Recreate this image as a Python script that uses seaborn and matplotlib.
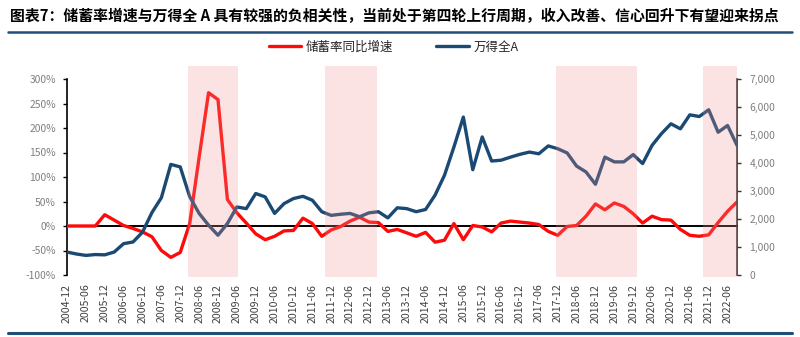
import matplotlib
matplotlib.use("Agg")
import matplotlib.pyplot as plt
import seaborn as sns
import pandas as pd
from matplotlib.lines import Line2D
from matplotlib.ticker import FuncFormatter

# ---------------- data ----------------
quarters = [
    "2004-12",
    "2005-03", "2005-06", "2005-09", "2005-12",
    "2006-03", "2006-06", "2006-09", "2006-12",
    "2007-03", "2007-06", "2007-09", "2007-12",
    "2008-03", "2008-06", "2008-09", "2008-12",
    "2009-03", "2009-06", "2009-09", "2009-12",
    "2010-03", "2010-06", "2010-09", "2010-12",
    "2011-03", "2011-06", "2011-09", "2011-12",
    "2012-03", "2012-06", "2012-09", "2012-12",
    "2013-03", "2013-06", "2013-09", "2013-12",
    "2014-03", "2014-06", "2014-09", "2014-12",
    "2015-03", "2015-06", "2015-09", "2015-12",
    "2016-03", "2016-06", "2016-09", "2016-12",
    "2017-03", "2017-06", "2017-09", "2017-12",
    "2018-03", "2018-06", "2018-09", "2018-12",
    "2019-03", "2019-06", "2019-09", "2019-12",
    "2020-03", "2020-06", "2020-09", "2020-12",
    "2021-03", "2021-06", "2021-09", "2021-12",
    "2022-03", "2022-06", "2022-09",
]

tick_labels = [
    "2004-12", "2005-06", "2005-12", "2006-06", "2006-12", "2007-06",
    "2007-12", "2008-06", "2008-12", "2009-06", "2009-12", "2010-06",
    "2010-12", "2011-06", "2011-12", "2012-06", "2012-12", "2013-06",
    "2013-12", "2014-06", "2014-12", "2015-06", "2015-12", "2016-06",
    "2016-12", "2017-06", "2017-12", "2018-06", "2018-12", "2019-06",
    "2019-12", "2020-06", "2020-12", "2021-06", "2021-12", "2022-06",
]

# 储蓄率同比增速 (%)
savings_growth = [
    0, 0, 0, 0, 23, 12, 1, -5, -12, -22,
    -50, -64, -54, 5, 140, 272, 258, 54, 27, 6,
    -16, -28, -21, -10, -9, 16, 5, -21, -8, -1,
    10, 18, 8, 7, -11, -7, -14, -21, -13, -33,
    -29, 5, -28, 1, -2, -12, 6, 10, 8, 6,
    3, -11, -19, -1, 1, 20, 45, 33, 47, 40,
    25, 6, 20, 13, 12, -7, -19, -21, -18, 7,
    30, 49,
]

# 万得全A
wind_all_a = [
    820, 750, 700, 730, 720, 820, 1120, 1180, 1530, 2230,
    2760, 3950, 3860, 2800, 2200, 1780, 1420, 1840, 2430, 2370,
    2910, 2790, 2200, 2550, 2730, 2810, 2670, 2260, 2130, 2170,
    2200, 2080, 2220, 2260, 2040, 2400, 2370, 2260, 2340, 2850,
    3560, 4570, 5640, 3760, 4930, 4070, 4100, 4210, 4310, 4390,
    4330, 4610, 4510, 4360, 3890, 3680, 3240, 4210, 4040, 4040,
    4300, 3980, 4630, 5050, 5400, 5220, 5720, 5660, 5900, 5100,
    5340, 4630,
]

# shaded periods (start, end) on the quarter axis
shade_starts = [12.85, 27.3, 51.8, 67.35]
shade_ends = [18.1, 32.9, 60.45, 71.0]

left_ticks = [-100, -50, 0, 50, 100, 150, 200, 250, 300]
right_ticks = [0, 1000, 2000, 3000, 4000, 5000, 6000, 7000]

title = "图表7：储蓄率增速与万得全 A 具有较强的负相关性，当前处于第四轮上行周期，收入改善、信心回升下有望迎来拐点"
label_red = "储蓄率同比增速"
label_blue = "万得全A"

# ---------------- style ----------------
RED = "#ff0a0a"
BLUE = "#1a4a73"
NAVY = "#1f4e79"
SHADE = "#f39191"

sns.set_theme(style="white")
plt.rcParams["font.family"] = ["Noto Sans CJK SC", "DejaVu Sans"]
plt.rcParams["axes.unicode_minus"] = False

df = pd.DataFrame({"quarter": quarters, "savings": savings_growth, "wind": wind_all_a})

fig = plt.figure(figsize=(8, 3.37), dpi=100)
ax = fig.add_axes([67 / 800, 1 - 275 / 337, 670 / 800, 196 / 337])
ax2 = ax.twinx()

sns.lineplot(data=df, x="quarter", y="savings", ax=ax, color=RED, linewidth=2.4,
             sort=False, zorder=3, legend=False)
sns.lineplot(data=df, x="quarter", y="wind", ax=ax2, color=BLUE, linewidth=2.4,
             sort=False, zorder=3, legend=False)

for a, b in zip(shade_starts, shade_ends):
    ax2.axvspan(a, b, ymin=-0.01, ymax=1.067, color=SHADE, alpha=0.25, lw=0,
                zorder=5, clip_on=False)

ax.set_xlim(0, len(quarters) - 1)
ax.set_ylim(-100, 300)
ax2.set_ylim(0, 7000)

ax.set_yticks(left_ticks)
ax.yaxis.set_major_formatter(FuncFormatter(lambda v, p: f"{int(v)}%"))
ax2.set_yticks(right_ticks)
ax2.yaxis.set_major_formatter(FuncFormatter(lambda v, p: f"{int(v):,}"))

ax.set_xticks(range(0, len(quarters), 2))
ax.set_xticklabels(tick_labels)

ax.set_xlabel("")
ax.set_ylabel("")
ax2.set_ylabel("")

# spines
ax.spines["top"].set_visible(False)
ax.spines["right"].set_visible(False)
ax.spines["left"].set_color("black")
ax.spines["left"].set_linewidth(1.2)
ax.spines["bottom"].set_position(("data", 0))
ax.spines["bottom"].set_color("black")
ax.spines["bottom"].set_linewidth(1.4)
for s in ["top", "left", "bottom"]:
    ax2.spines[s].set_visible(False)
ax2.spines["right"].set_color("#333333")
ax2.spines["right"].set_linewidth(1.2)

ax.tick_params(axis="x", direction="out", length=3, width=1, color="black",
               pad=38.5, labelsize=7.6, labelcolor="#404040", rotation=90)
ax.tick_params(axis="y", direction="out", length=3, width=1, color="black",
               pad=5, labelsize=7.4, labelcolor="#7f7f7f", left=True)
ax2.tick_params(axis="y", direction="out", length=3, width=1, color="#333333",
                pad=6, labelsize=7.4, labelcolor="#7f7f7f", right=True)

# title and rules
fig.text(10 / 800, 1 - 16 / 337, title, fontsize=10.7, fontweight="bold",
         ha="left", va="center", color="black")
fig.add_artist(Line2D([8 / 800, 792 / 800], [1 - 31.5 / 337] * 2, color=NAVY, lw=1.8))
fig.add_artist(Line2D([8 / 800, 792 / 800], [1 - 333 / 337] * 2, color=NAVY, lw=2.2))

# legend
h_red = ax.get_lines()[0]
h_blue = ax2.get_lines()[0]
fig.legend([h_red, h_blue], [label_red, label_blue], loc="center",
           bbox_to_anchor=(0.492, 1 - 47 / 337), ncol=2, frameon=False,
           fontsize=9, handlelength=2.6, handletextpad=0.4, columnspacing=3.4)

fig.savefig("out.png", dpi=100)
